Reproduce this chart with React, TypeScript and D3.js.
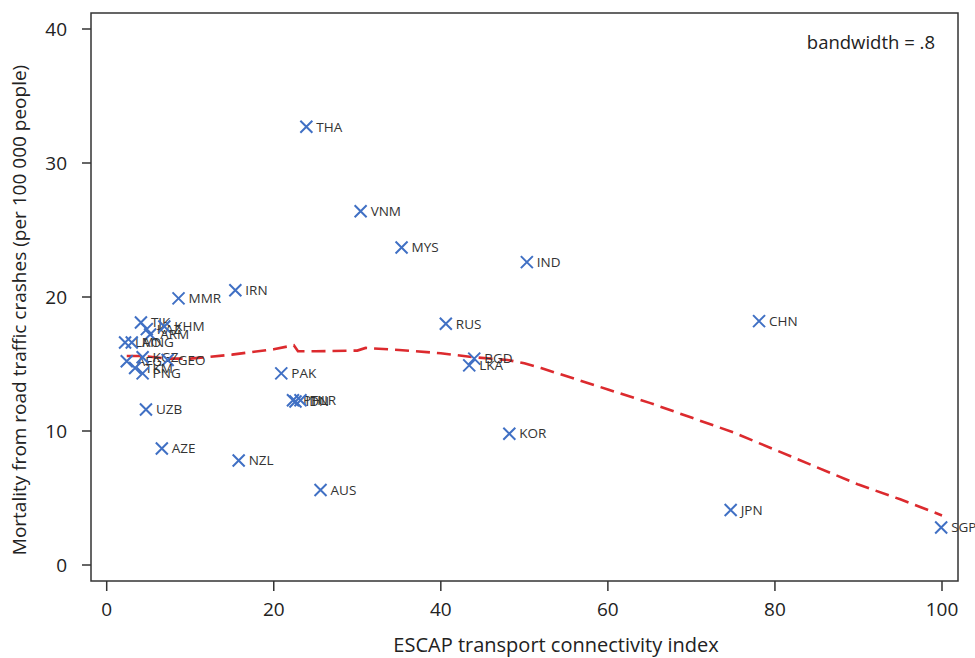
import React from "react";
import * as d3 from "d3";

const countries = ["THA","VNM","MYS","IND","IRN","MMR","RUS","CHN","TJK","KAZ","KHM","ARM","LAO","MNG","AFG","KGZ","GEO","TKM","PNG","UZB","AZE","NZL","AUS","PAK","PHL","IDN","TUR","BGD","LKA","KOR","JPN","SGP"];
const connectivity = [23.9,30.4,35.3,50.3,15.4,8.6,40.6,78.1,4.1,4.8,6.9,5.2,2.2,3.0,2.4,4.3,7.3,3.4,4.3,4.7,6.6,15.8,25.6,20.9,22.3,22.6,23.2,44.0,43.4,48.2,74.7,99.9];
const mortality = [32.7,26.4,23.7,22.6,20.5,19.9,18.0,18.2,18.1,17.6,17.8,17.2,16.6,16.6,15.2,15.5,15.3,14.7,14.3,11.6,8.7,7.8,5.6,14.3,12.3,12.2,12.3,15.4,14.9,9.8,4.1,2.8];

const smoothX = [2.4,4.3,7.3,10,15,20,22.4,22.9,25,30,31,35,40,44,48,50,52,55,60,65,70,75,80,85,90,95,100];
const smoothY = [15.6,15.6,15.4,15.4,15.7,16.1,16.4,15.95,15.95,16.0,16.2,16.05,15.8,15.5,15.3,15.05,14.7,14.1,13.1,12.1,11.0,9.9,8.6,7.3,6.0,4.9,3.7];

const xTicks = [0,20,40,60,80,100];
const yTicks = [0,10,20,30,40];

const FONT = "'Open Sans', 'Noto Sans', sans-serif";

export default function App() {
  const x = d3.scaleLinear().domain([0, 100]).range([106.7, 942]);
  const y = d3.scaleLinear().domain([0, 40]).range([565, 29]);
  const left = 91, right = 958, top = 13, bottom = 581;
  const line = d3.line<number>().x((_, i) => x(smoothX[i])).y((d) => y(d));
  const blue = "#4070c4";
  const r = 6;
  return (
    <svg width={975} height={658} style={{ position: "fixed", left: 0, top: 0, background: "#fff" }} fontFamily={FONT}>
      <rect x={0} y={0} width={975} height={658} fill="#fff" />
      <path d={line(smoothY) || ""} fill="none" stroke="#dc2a2e" strokeWidth={2.6} strokeDasharray="14 7" />
      {countries.map((c, i) => {
        const cx = x(connectivity[i]);
        const cy = y(mortality[i]);
        return (
          <g key={c}>
            <path d={`M${cx - r},${cy - r}L${cx + r},${cy + r}M${cx - r},${cy + r}L${cx + r},${cy - r}`} stroke={blue} strokeWidth={2} fill="none" />
            <text x={cx + 10} y={cy} dy="0.35em" fontSize={13.5} fill="#333">{c}</text>
          </g>
        );
      })}
      <rect x={left} y={top} width={right - left} height={bottom - top} fill="none" stroke="#333" strokeWidth={1.5} />
      {xTicks.map((t) => (
        <g key={"x" + t}>
          <line x1={x(t)} x2={x(t)} y1={bottom} y2={bottom + 10} stroke="#333" strokeWidth={1.5} />
          <text x={x(t)} y={bottom + 35} textAnchor="middle" fontSize={19} fill="#222">{t}</text>
        </g>
      ))}
      {yTicks.map((t) => (
        <g key={"y" + t}>
          <line x1={left - 9} x2={left} y1={y(t)} y2={y(t)} stroke="#333" strokeWidth={1.5} />
          <text x={left - 24} y={y(t)} dy="0.35em" textAnchor="end" fontSize={19} fill="#222">{t}</text>
        </g>
      ))}
      <text x={935} y={43} dy="0.35em" textAnchor="end" fontSize={18.5} fill="#222">bandwidth = .8</text>
      <text x={556} y={645} dy="0.35em" textAnchor="middle" fontSize={20} fill="#222">ESCAP transport connectivity index</text>
      <text transform="translate(19,310) rotate(-90)" dy="0.35em" textAnchor="middle" fontSize={19} fill="#222">Mortality from road traffic crashes (per 100 000 people)</text>
    </svg>
  );
}
